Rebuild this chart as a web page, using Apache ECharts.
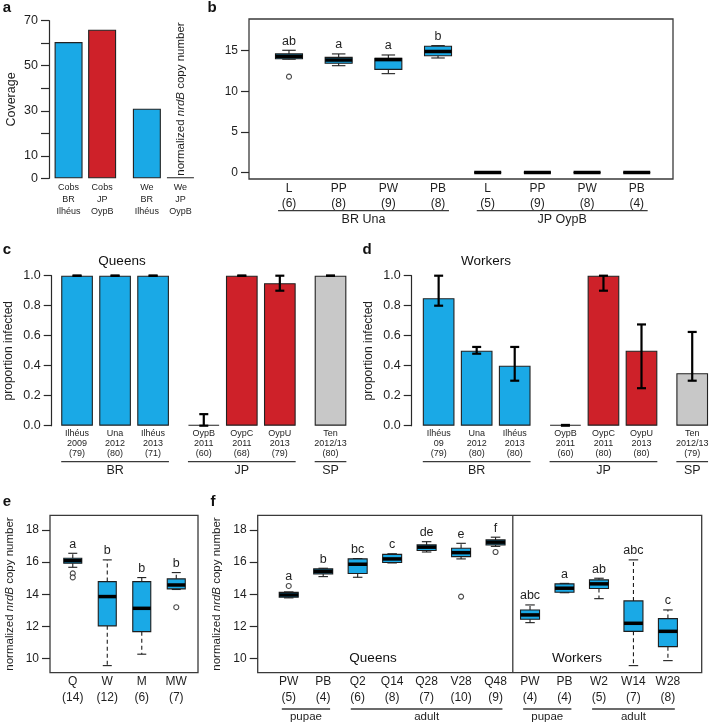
<!DOCTYPE html>
<html><head><meta charset="utf-8">
<script src="https://cdn.jsdelivr.net/npm/echarts@6/dist/echarts.min.js"></script>
<style>html,body{margin:0;padding:0;background:#fff}#c{width:727px;height:725px}</style>
</head><body><div id="c"></div>
<script>
// ---------------- data ----------------
const aLabels = ['Cobs\nBR\nIlhéus', 'Cobs\nJP\nOypB', 'We\nBR\nIlhéus', 'We\nJP\nOypB'];
const aGroupSizes = [2, 2];
const aCoverage = [60.5, 66.0, 30.9, 0.3];
const aOrigin = ['BR', 'JP', 'BR', 'JP'];
const aTicks = [0, 10, 20, 30, 40, 50, 60, 70];
const aTickLabels = [0, 10, 30, 50, 70];

const bStages = ['L', 'PP', 'PW', 'PB', 'L', 'PP', 'PW', 'PB'];
const bN = [6, 8, 9, 8, 5, 9, 8, 4];
const bBoxes = [
  [13.95, 14.0, 14.3, 14.6, 15.05],
  [13.15, 13.45, 13.85, 14.18, 14.6],
  [12.17, 12.7, 13.9, 14.05, 14.47],
  [14.1, 14.38, 14.9, 15.54, 15.62],
  [0, 0, 0, 0, 0], [0, 0, 0, 0, 0], [0, 0, 0, 0, 0], [0, 0, 0, 0, 0]
];
const bOutliers = [[11.8], [], [], [], [], [], [], []];
const bLetters = ['ab', 'a', 'a', 'b', '', '', '', ''];
const bGroups = ['BR Una', 'JP OypB'];
const bGroupSizes = [4, 4];
const bTicks = [0, 5, 10, 15];

const cSites = ['Ilhéus', 'Una', 'Ilhéus', 'OypB', 'OypC', 'OypU', 'Ten'];
const cYears = ['2009', '2012', '2013', '2011', '2011', '2013', '2012/13'];
const cN = [79, 80, 71, 60, 68, 79, 80];
const cProp = [1, 1, 1, 0, 1, 0.95, 1];
const cLow = [1, 1, 1, 0, 1, 0.9, 1];
const cHigh = [1, 1, 1, 0.077, 1, 1, 1];

const dSites = ['Ilhéus', 'Una', 'Ilhéus', 'OypB', 'OypC', 'OypU', 'Ten'];
const dYears = ['09', '2012', '2013', '2011', '2011', '2013', '2012/13'];
const dN = [79, 80, 80, 60, 80, 80, 79];
const dProp = [0.85, 0.5, 0.4, 0, 1.0, 0.5, 0.35];
const dLow = [0.8, 0.48, 0.3, 0, 0.9, 0.25, 0.3];
const dHigh = [1.0, 0.525, 0.525, 0.005, 1.0, 0.675, 0.625];

const cdGroups = ['BR', 'JP', 'SP'];
const cdGroupSizes = [3, 3, 1];
const propTicks = [0, 0.2, 0.4, 0.6, 0.8, 1.0];

const eCastes = ['Q', 'W', 'M', 'MW'];
const eN = [14, 12, 6, 7];
const eBoxes = [
  [15.68, 15.93, 16.09, 16.24, 16.55],
  [9.57, 12.04, 13.86, 14.79, 16.14],
  [10.28, 11.68, 13.13, 14.79, 15.04],
  [14.3, 14.34, 14.58, 14.96, 15.35]
];
const eOutliers = [[15.3, 15.05], [], [], [13.2]];
const eLetters = ['a', 'b', 'b', 'b'];
const copyTicks = [10, 12, 14, 16, 18];

const fStages = ['PW', 'PB', 'Q2', 'Q14', 'Q28', 'V28', 'Q48', 'PW', 'PB', 'W2', 'W14', 'W28'];
const fN = [5, 4, 6, 8, 7, 10, 9, 4, 4, 5, 7, 8];
const fBoxes = [
  [13.78, 13.82, 13.96, 14.12, 14.15],
  [15.1, 15.27, 15.43, 15.58, 15.62],
  [15.06, 15.29, 15.87, 16.2, 16.22],
  [15.95, 15.98, 16.2, 16.48, 16.52],
  [16.63, 16.72, 16.93, 17.07, 17.27],
  [16.2, 16.34, 16.59, 16.86, 17.17],
  [16.98, 17.07, 17.24, 17.38, 17.55],
  [12.24, 12.45, 12.72, 13.03, 13.34],
  [14.1, 14.13, 14.38, 14.65, 14.68],
  [13.73, 14.36, 14.65, 14.9, 15.0],
  [9.57, 11.7, 12.2, 13.59, 16.14],
  [9.88, 10.75, 11.7, 12.49, 13.03]
];
const fOutliers = [[14.52], [], [], [], [], [13.86], [16.63], [], [], [], [], []];
const fLetters = ['a', 'b', 'bc', 'c', 'de', 'e', 'f', 'abc', 'a', 'ab', 'abc', 'c'];
const fCastes = ['Queens', 'Workers'];
const fCasteSizes = [7, 5];
const fGroups = ['pupae', 'adult', 'pupae', 'adult'];
const fGroupSizes = [2, 5, 2, 3];

// ---------------- style ----------------
const FONT = '"Liberation Sans", Arial, Helvetica, sans-serif';
const INK = '#1e1e1e';
const BLUE = '#1AA9E6';
const RED = '#CE2129';
const GREY = '#C8C8C8';
const originColor = { BR: BLUE, JP: RED, SP: GREY };

// ---------------- helpers ----------------
function barLayout(sizes, spaceIn, spaceOut) {
  const centers = [], spans = [];
  let x = spaceIn;
  sizes.forEach((n, g) => {
    if (g > 0) x += spaceOut;
    const s = x;
    for (let k = 0; k < n; k++) {
      if (k > 0) x += spaceIn;
      centers.push(x + 0.5);
      x += 1;
    }
    spans.push([s, x]);
  });
  return { centers, spans };
}
function indexSpans(sizes, pad) {
  const spans = []; let i = 0;
  sizes.forEach(n => { spans.push([i - pad, i + n - 1 + pad]); i += n; });
  return spans;
}
function labelAt(positions, labels) {
  return v => {
    const i = positions.findIndex(p => Math.abs(p - v) < 1e-6);
    return i < 0 ? '' : labels[i];
  };
}
function boxItem(boxW, outliers, letters) {
  return (params, api) => {
    const i = params.dataIndex;
    const xv = api.value(0);
    const v = [1, 2, 3, 4, 5].map(k => api.value(k));
    const px = api.coord([xv, v[2]])[0];
    const Y = val => api.coord([xv, val])[1];
    const hw = boxW / 2, cw = boxW / 4;
    const dash = { stroke: INK, lineWidth: 1.1, lineDash: [4, 3] };
    const solid = { stroke: INK, lineWidth: 1.1 };
    const ch = [
      { type: 'line', shape: { x1: px, y1: Y(v[3]), x2: px, y2: Y(v[4]) }, style: dash },
      { type: 'line', shape: { x1: px, y1: Y(v[1]), x2: px, y2: Y(v[0]) }, style: dash },
      { type: 'line', shape: { x1: px - cw, y1: Y(v[4]), x2: px + cw, y2: Y(v[4]) }, style: solid },
      { type: 'line', shape: { x1: px - cw, y1: Y(v[0]), x2: px + cw, y2: Y(v[0]) }, style: solid },
      { type: 'rect', shape: { x: px - hw, y: Y(v[3]), width: boxW, height: Y(v[1]) - Y(v[3]) },
        style: { fill: BLUE, stroke: INK, lineWidth: 1.1 } },
      { type: 'line', shape: { x1: px - hw, y1: Y(v[2]), x2: px + hw, y2: Y(v[2]) },
        style: { stroke: '#000', lineWidth: 3.5 } }
    ];
    if (letters[i]) {
      const top = Math.max(v[4], ...outliers[i]);
      ch.push({ type: 'text', x: px, y: Y(top) - 9,
        style: { text: letters[i], fill: INK, fontSize: 12.5, fontFamily: FONT, align: 'center', verticalAlign: 'middle' } });
    }
    return { type: 'group', children: ch };
  };
}
function groupItem(names, lineOff, textOff, fontSize) {
  return (params, api) => {
    const x1 = api.coord([api.value(0), api.value(2)])[0];
    const x2 = api.coord([api.value(1), api.value(2)])[0];
    const bottom = params.coordSys.y + params.coordSys.height;
    return { type: 'group', children: [
      { type: 'line', shape: { x1, y1: bottom + lineOff, x2, y2: bottom + lineOff }, style: { stroke: '#3a3a3a', lineWidth: 1.3 } },
      { type: 'text', x: (x1 + x2) / 2, y: bottom + textOff,
        style: { text: names[params.dataIndex], fill: INK, fontSize, fontFamily: FONT, align: 'center', verticalAlign: 'middle' } }
    ] };
  };
}
function errItem(capHW) {
  return (params, api) => {
    const x = api.value(0);
    const lo = api.coord([x, api.value(1)]);
    const hi = api.coord([x, api.value(2)]);
    const st = { stroke: '#000', lineWidth: 2.2 };
    return { type: 'group', children: [
      { type: 'line', shape: { x1: lo[0], y1: lo[1], x2: hi[0], y2: hi[1] }, style: st },
      { type: 'line', shape: { x1: lo[0] - capHW, y1: lo[1], x2: lo[0] + capHW, y2: lo[1] }, style: st },
      { type: 'line', shape: { x1: hi[0] - capHW, y1: hi[1], x2: hi[0] + capHW, y2: hi[1] }, style: st }
    ] };
  };
}
function dividerItem(params, api) {
  const x = api.coord([api.value(0), api.value(1)])[0];
  const cs = params.coordSys;
  return { type: 'line', shape: { x1: x, y1: cs.y, x2: x, y2: cs.y + cs.height }, style: { stroke: '#3a3a3a', lineWidth: 1.3 } };
}

// ---------------- layouts ----------------
const aLay = barLayout(aGroupSizes, 0.2, 0.6);
const cLay = barLayout(cdGroupSizes, 0.2, 0.6);
const bPos = bStages.map((_, i) => i);
const ePos = eCastes.map((_, i) => i);
const fPos = fStages.map((_, i) => i);

const aXLabels = aLabels;
const cXLabels = cSites.map((s, i) => s + '\n' + cYears[i] + '\n(' + cN[i] + ')');
const dXLabels = dSites.map((s, i) => s + '\n' + dYears[i] + '\n(' + dN[i] + ')');
const bXLabels = bStages.map((s, i) => s + '\n(' + bN[i] + ')');
const eXLabels = eCastes.map((s, i) => s + '\n(' + eN[i] + ')');
const fXLabels = fStages.map((s, i) => s + '\n(' + fN[i] + ')');
const cdOrigins = [];
cdGroups.forEach((g, k) => { for (let j = 0; j < cdGroupSizes[k]; j++) cdOrigins.push(g); });

// ---------------- axes ----------------
const grids = [
  { left: 49, top: 20.7, width: 151, height: 157.6 },                 // a
  { left: 249, top: 19, width: 424, height: 160, show: true, borderColor: '#3a3a3a', borderWidth: 1.3 }, // b
  { left: 51.7, top: 275.7, width: 301, height: 150 },                // c
  { left: 411.7, top: 275.7, width: 302.7, height: 150 },             // d
  { left: 50, top: 515.3, width: 148, height: 157.4, show: true, borderColor: '#3a3a3a', borderWidth: 1.3 }, // e
  { left: 257.7, top: 515.3, width: 444, height: 157.4, show: true, borderColor: '#3a3a3a', borderWidth: 1.3 } // f
];

function xAxisCfg(gi, min, max, pos, labels, fs, lh, margin) {
  return { type: 'value', gridIndex: gi, min, max,
    axisLine: { show: false, onZero: false }, axisTick: { show: false }, splitLine: { show: false },
    axisLabel: { customValues: pos, formatter: labelAt(pos, labels), fontSize: fs, lineHeight: lh,
      margin, color: INK, fontFamily: FONT } };
}
function yAxisCfg(gi, min, max, ticks, tickLabels, fmt, fs, showLine, name, nameGap, nameFs) {
  return { type: 'value', gridIndex: gi, min, max,
    axisLine: { show: showLine, onZero: false, lineStyle: { color: '#2a2a2a', width: 1.2 } },
    axisTick: { show: true, customValues: ticks, length: 8, lineStyle: { color: '#2a2a2a', width: 1.2 } },
    axisLabel: { customValues: tickLabels, formatter: fmt, fontSize: fs, margin: 11, color: INK, fontFamily: FONT },
    splitLine: { show: false },
    name, nameLocation: 'middle', nameGap,
    nameTextStyle: { fontSize: nameFs, color: INK, fontFamily: FONT,
      rich: { i: { fontStyle: 'italic', fontSize: nameFs, color: INK, fontFamily: FONT } } } };
}
const copyName = 'normalized {i|nrdB} copy number';

const xAxes = [
  xAxisCfg(0, 0, 5.4, aLay.centers, aXLabels, 9, 12, 3),
  xAxisCfg(1, -0.805, 7.73, bPos, bXLabels, 12, 15, 2),
  xAxisCfg(2, -0.1, 9.4, cLay.centers, cXLabels, 9, 10.2, 2.5),
  xAxisCfg(3, -0.15, 9.4, cLay.centers, dXLabels, 9, 10.2, 2.5),
  xAxisCfg(4, -0.66, 3.63, ePos, eXLabels, 12, 16, 1),
  xAxisCfg(5, -0.9, 11.98, fPos, fXLabels, 12, 16, 1)
];
const yAxes = [
  yAxisCfg(0, 0, 70, aTicks, aTickLabels, v => String(v), 12.5, true, 'Coverage', 31, 12.5),
  yAxisCfg(1, -0.8, 18.9, bTicks, bTicks, v => String(v), 12, false, copyName, 62, 11.5),
  yAxisCfg(2, 0, 1, propTicks, propTicks, v => v.toFixed(1), 12.5, true, 'proportion infected', 37, 12),
  yAxisCfg(3, 0, 1, propTicks, propTicks, v => v.toFixed(1), 12.5, true, 'proportion infected', 37, 12),
  yAxisCfg(4, 9.13, 18.91, copyTicks, copyTicks, v => String(v), 12, false, copyName, 34, 11.5),
  yAxisCfg(5, 9.13, 18.91, copyTicks, copyTicks, v => String(v), 12, false, copyName, 29, 11.5)
];

// ---------------- series ----------------
function barSeries(gi, pos, vals, origins, width) {
  return { type: 'bar', xAxisIndex: gi, yAxisIndex: gi, barWidth: width, barMinHeight: 1, silent: true,
    data: vals.map((v, i) => ({ value: [pos[i], v], itemStyle: { color: originColor[origins[i]], borderColor: '#222', borderWidth: 1.1 } })) };
}
function outlierSeries(gi, pos, outs) {
  const data = [];
  outs.forEach((arr, i) => arr.forEach(v => data.push([pos[i], v])));
  return { type: 'scatter', xAxisIndex: gi, yAxisIndex: gi, symbol: 'circle', symbolSize: 5, silent: true, z: 5,
    itemStyle: { color: '#fff', borderColor: INK, borderWidth: 1.1 }, data };
}
function boxSeries(gi, pos, boxes, outs, letters, w) {
  return { type: 'custom', xAxisIndex: gi, yAxisIndex: gi, silent: true, clip: false,
    encode: { x: 0, y: [1, 2, 3, 4, 5] }, renderItem: boxItem(w, outs, letters),
    data: boxes.map((b, i) => [pos[i], ...b]) };
}
function groupSeries(gi, spans, names, yMin, lineOff, textOff, fs) {
  return { type: 'custom', xAxisIndex: gi, yAxisIndex: gi, silent: true, clip: false,
    encode: { x: [0, 1], y: 2 }, renderItem: groupItem(names, lineOff, textOff, fs),
    data: spans.map(s => [s[0], s[1], yMin]) };
}
function errSeries(gi, pos, lo, hi) {
  return { type: 'custom', xAxisIndex: gi, yAxisIndex: gi, silent: true, clip: false, z: 6,
    encode: { x: 0, y: [1, 2] }, renderItem: errItem(4.5),
    data: pos.map((p, i) => [p, lo[i], hi[i]]) };
}

const series = [
  barSeries(0, aLay.centers, aCoverage, aOrigin, 28),
  boxSeries(1, bPos, bBoxes, bOutliers, bLetters, 27),
  outlierSeries(1, bPos, bOutliers),
  groupSeries(1, indexSpans(bGroupSizes, 0.22), bGroups, -0.8, 31.7, 41, 12.5),
  barSeries(2, cLay.centers, cProp, cdOrigins, 31.7),
  errSeries(2, cLay.centers, cLow, cHigh),
  groupSeries(2, cLay.spans, cdGroups, 0, 36, 45.3, 12.5),
  barSeries(3, cLay.centers, dProp, cdOrigins, 31.7),
  errSeries(3, cLay.centers, dLow, dHigh),
  groupSeries(3, cLay.spans, cdGroups, 0, 36, 45.3, 12.5),
  boxSeries(4, ePos, eBoxes, eOutliers, eLetters, 18),
  outlierSeries(4, ePos, eOutliers),
  boxSeries(5, fPos, fBoxes, fOutliers, fLetters, 19),
  outlierSeries(5, fPos, fOutliers),
  groupSeries(5, indexSpans(fGroupSizes, 0.2), fGroups, 9.13, 36.3, 44.6, 11.5),
  { type: 'custom', xAxisIndex: 5, yAxisIndex: 5, silent: true, clip: false, encode: { x: 0, y: 1 },
    renderItem: dividerItem, data: [[fCasteSizes[0] - 0.5, 9.13]] }
];

// ---------------- texts ----------------
function txt(t, x, y, fs, bold) {
  return { type: 'text', x, y, silent: true,
    style: { text: t, fill: '#111', fontSize: fs, fontWeight: bold ? 'bold' : 'normal', fontFamily: FONT, align: 'center', verticalAlign: 'middle' } };
}
const graphic = [
  txt('a', 7, 8, 15, true), txt('b', 212, 8, 15, true),
  txt('c', 7, 250, 15, true), txt('d', 367, 250, 15, true),
  txt('e', 7, 502, 15, true), txt('f', 213, 502, 15, true),
  txt('Queens', 122, 261, 13.5, false), txt('Workers', 486, 261, 13.5, false),
  txt(fCastes[0], 373, 658, 13.5, false), txt(fCastes[1], 577, 658, 13.5, false)
];

const chart = echarts.init(document.getElementById('c'), null, { renderer: 'canvas' });
chart.setOption({
  animation: false,
  backgroundColor: '#fff',
  textStyle: { fontFamily: FONT },
  grid: grids, xAxis: xAxes, yAxis: yAxes, series, graphic
});
</script></body></html>
